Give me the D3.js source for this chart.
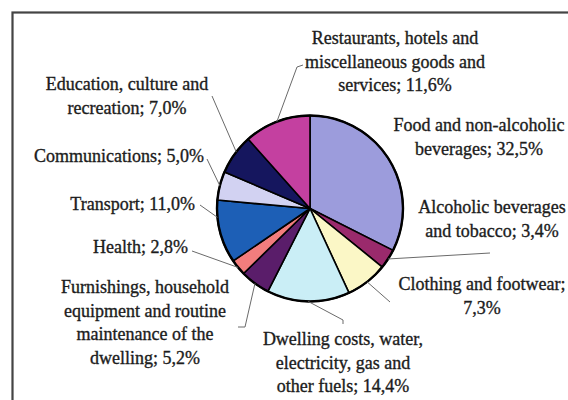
<!DOCTYPE html>
<html>
<head>
<meta charset="utf-8">
<script src="https://cdn.jsdelivr.net/npm/d3@7"></script>
<style>
  body { margin: 0; background: #fff; }
</style>
</head>
<body>
<div id="chart"></div>
<script>
// household expenditure shares, clockwise from 12 o'clock
var categories = ["Food and non-alcoholic beverages", "Alcoholic beverages and tobacco", "Clothing and footwear",
    "Dwelling costs, water, electricity, gas and other fuels", "Furnishings, household equipment and routine maintenance of the dwelling",
    "Health", "Transport", "Communications", "Education, culture and recreation", "Restaurants, hotels and miscellaneous goods and services"];
var values = [32.5, 3.4, 7.3, 14.4, 5.2, 2.8, 11.0, 5.0, 7.0, 11.6];
var colors = ["#9c9cdc", "#9a2a6c", "#fbf7c6", "#caeef6", "#5a1d6a", "#f27d7d", "#1d5fb6", "#d2d2f2", "#15165e", "#c440a0"];

// label text lines ({v} = value) and where they sit
var labelLines = [
    ["Food and non-alcoholic", "beverages; {v}"],
    ["Alcoholic beverages", "and tobacco; {v}"],
    ["Clothing and footwear;", "{v}"],
    ["Dwelling costs, water,", "electricity, gas and", "other fuels; {v}"],
    ["Furnishings, household", "equipment and routine", "maintenance of the", "dwelling; {v}"],
    ["Health; {v}"],
    ["Transport; {v}"],
    ["Communications; {v}"],
    ["Education, culture and", "recreation; {v}"],
    ["Restaurants, hotels and", "miscellaneous goods and", "services; {v}"]
];

var width = 568, height = 400;
var cx = 310, cy = 208.5, radius = 93, lineH = 23.5;

var labelPos = [
    {x: 479, y: 131, anchor: "middle", leader: null},
    {x: 492, y: 213, anchor: "middle", leader: [[490, 253]]},
    {x: 482, y: 290, anchor: "middle", leader: [[390, 302]]},
    {x: 343, y: 345, anchor: "middle", leader: [[343, 320], [343, 324]]},
    {x: 145, y: 293, anchor: "middle", leader: [[245, 327], [238, 327]]},
    {x: 188, y: 253, anchor: "end", leader: [[192, 251]]},
    {x: 195, y: 210, anchor: "end", leader: [[200, 205]], at: 0.73},
    {x: 204, y: 162, anchor: "end", leader: [[207, 159]]},
    {x: 127, y: 90, anchor: "middle", leader: [[212, 96]], at: 0.57},
    {x: 395, y: 44, anchor: "middle", leader: [[297, 67], [303, 65]]}
];

var fmt = function(v) { return d3.format(".1f")(v).replace(".", ",") + "%"; };

var svg = d3.select("#chart").append("svg")
    .attr("width", width)
    .attr("height", height);

// frame (cut off at right and bottom in the original)
svg.append("rect")
    .attr("x", 12.5).attr("y", 12.5)
    .attr("width", 700).attr("height", 500)
    .attr("fill", "#fff")
    .attr("stroke", "#444")
    .attr("stroke-width", 2.2);

var pie = d3.pie().sort(null).value(function(d) { return d; });
var arcs = pie(values);
var arc = d3.arc().innerRadius(0).outerRadius(radius);

var g = svg.append("g").attr("transform", "translate(" + cx + "," + cy + ")");

g.selectAll("path.slice")
    .data(arcs)
    .enter().append("path")
    .attr("class", "slice")
    .attr("d", arc)
    .attr("fill", function(d, i) { return colors[i]; })
    .attr("stroke", "#000")
    .attr("stroke-width", 1.6)
    .attr("stroke-linejoin", "round");

g.append("circle")
    .attr("r", radius)
    .attr("fill", "none")
    .attr("stroke", "#000")
    .attr("stroke-width", 2.4);

// leader lines from slice edge to label
function edgePoint(d, t) {
    var a = d.startAngle + (t == null ? 0.5 : t) * (d.endAngle - d.startAngle);
    return [cx + radius * Math.sin(a), cy - radius * Math.cos(a)];
}

var line = d3.line();
svg.append("g").selectAll("path")
    .data(arcs.filter(function(d, i) { return labelPos[i].leader; }))
    .enter().append("path")
    .attr("d", function(d) {
        var p = labelPos[d.index];
        return line([edgePoint(d, p.at)].concat(p.leader));
    })
    .attr("fill", "none")
    .attr("stroke", "#6a6a6a")
    .attr("stroke-width", 1);

// labels (slight stroke to match the heavier scanned type)
var labels = svg.append("g").selectAll("text")
    .data(arcs)
    .enter().append("text")
    .style("font-family", "Liberation Serif")
    .style("font-size", "18px")
    .attr("fill", "#1c1c1c")
    .attr("stroke", "#1c1c1c")
    .attr("stroke-width", 0.35)
    .attr("text-anchor", function(d, i) { return labelPos[i].anchor; });

labels.selectAll("tspan")
    .data(function(d, i) {
        return labelLines[i].map(function(s) { return {s: s.replace("{v}", fmt(values[i])), i: i}; });
    })
    .enter().append("tspan")
    .attr("x", function(d) { return labelPos[d.i].x; })
    .attr("y", function(d, j) { return labelPos[d.i].y + j * lineH; })
    .text(function(d) { return d.s; });
</script>
</body>
</html>
